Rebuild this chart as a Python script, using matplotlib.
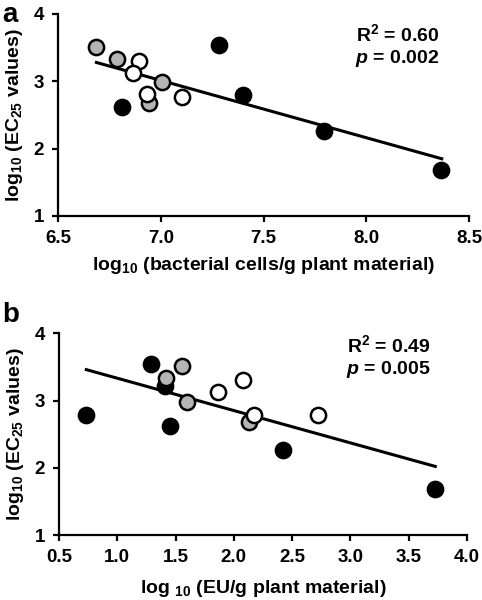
import matplotlib
matplotlib.use('Agg')
import matplotlib.pyplot as plt
import numpy as np

plt.rcParams['font.family'] = ['Liberation Sans', 'DejaVu Sans']
plt.rcParams['font.weight'] = 'bold'
plt.rcParams['axes.labelweight'] = 'bold'
plt.rcParams['mathtext.fontset'] = 'custom'
plt.rcParams['mathtext.rm'] = 'Liberation Sans:bold'
plt.rcParams['mathtext.bf'] = 'Liberation Sans:bold'
plt.rcParams['mathtext.it'] = 'Liberation Sans:bold:italic'
plt.rcParams['mathtext.default'] = 'bf'

# panel a: log10 bacterial cells/g vs log10 EC25
a_black_x = [6.812, 7.284, 7.398, 7.793, 8.363]
a_black_y = [2.62, 3.54, 2.80, 2.26, 1.69]
a_gray_x = [6.687, 6.789, 6.942, 7.004]
a_gray_y = [3.51, 3.33, 2.68, 2.99]
a_open_x = [6.895, 6.863, 6.933, 7.105]
a_open_y = [3.30, 3.12, 2.81, 2.77]
a_fit_x = [6.687, 8.367]
a_fit_y = [3.28, 1.85]

# panel b: log10 EU/g vs log10 EC25
b_black_x = [0.734, 1.287, 1.407, 1.450, 2.420, 3.727]
b_black_y = [2.79, 3.54, 3.22, 2.62, 2.26, 1.69]
b_gray_x = [1.558, 1.416, 1.602, 2.134]
b_gray_y = [3.52, 3.33, 2.98, 2.68]
b_open_x = [1.865, 2.077, 2.174, 2.726]
b_open_y = [3.12, 3.31, 2.78, 2.79]
b_fit_x = [0.734, 3.730]
b_fit_y = [3.46, 2.02]


def draw_panel(ax, bx, by, gx, gy, ox, oy, fx, fy, stats, tx, ty):
    ax.plot(fx, fy, color='black', lw=2.2, zorder=1)
    style = dict(s=120, linewidths=1.8, edgecolors='black', zorder=3)
    ax.scatter(bx, by, c='black', **style)
    ax.scatter(gx, gy, c='#b4b4b4', **style)
    ax.scatter(ox, oy, c='white', **style)
    for s in ['top', 'right']:
        ax.spines[s].set_visible(False)
    for s in ['left', 'bottom']:
        ax.spines[s].set_linewidth(1.6)
    ax.tick_params(direction='out', length=4, width=1.6, labelsize=13.5, pad=6)
    ax.set_ylim(1, 4)
    ax.set_yticks([1, 2, 3, 4])
    ax.set_ylabel(r'log$_{10}$ (EC$_{25}$ values)', fontsize=14, labelpad=6)
    ax.text(tx, ty, stats[0], transform=ax.transAxes, ha='right', va='center', fontsize=14)
    ax.text(tx, ty - 0.12, stats[1], transform=ax.transAxes, ha='right', va='center', fontsize=14)


fig = plt.figure(figsize=(4.82, 6.0), dpi=100)
ax1 = fig.add_axes([0.1203, 0.64, 0.853, 0.3367])
ax2 = fig.add_axes([0.1224, 0.1083, 0.846, 0.3362])

draw_panel(ax1, a_black_x, a_black_y, a_gray_x, a_gray_y, a_open_x, a_open_y,
           a_fit_x, a_fit_y, [r'R$^2$ = 0.60', r'$\mathit{p}$ = 0.002'], 0.928, 0.90)
ax1.set_xlim(6.5, 8.5)
ax1.set_xticks([6.5, 7.0, 7.5, 8.0, 8.5])
ax1.set_xticklabels(['6.5', '7.0', '7.5', '8.0', '8.5'])
ax1.set_xlabel(r'log$_{10}$ (bacterial cells/g plant material)', fontsize=14, labelpad=6)

draw_panel(ax2, b_black_x, b_black_y, b_gray_x, b_gray_y, b_open_x, b_open_y,
           b_fit_x, b_fit_y, [r'R$^2$ = 0.49', r'$\mathit{p}$ = 0.005'], 0.912, 0.94)
ax2.set_xlim(0.5, 4.0)
ax2.set_xticks([0.5, 1.0, 1.5, 2.0, 2.5, 3.0, 3.5, 4.0])
ax2.set_xticklabels(['0.5', '1.0', '1.5', '2.0', '2.5', '3.0', '3.5', '4.0'])
ax2.set_xlabel(r'log $_{10}$ (EU/g plant material)', fontsize=14, labelpad=9)

fig.text(0.005, 0.997, 'a', fontsize=20, fontweight='bold', ha='left', va='top')
fig.text(0.005, 0.497, 'b', fontsize=20, fontweight='bold', ha='left', va='top')

fig.savefig('out.png', dpi=100)
